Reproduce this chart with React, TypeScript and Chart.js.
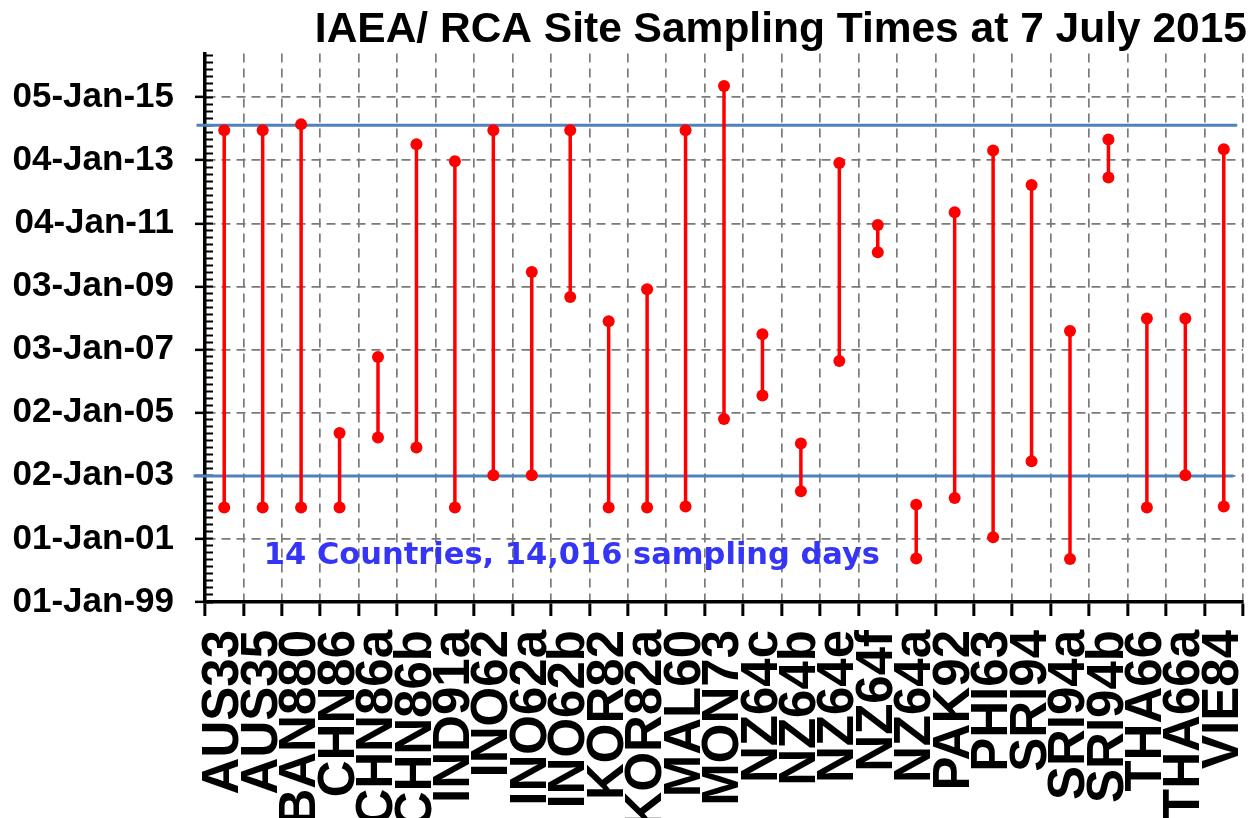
import React, { useEffect, useRef } from 'react';
import { Chart, registerables } from 'chart.js';

Chart.register(...registerables);

// ---------- data ----------
const CATEGORIES = [
  'AUS33', 'AUS35', 'BAN880', 'CHN86', 'CHN86a', 'CHN86b', 'IND91a', 'INO62', 'INO62a',
  'INO62b', 'KOR82', 'KOR82a', 'MAL60', 'MON73', 'NZ64c', 'NZ64b', 'NZ64e', 'NZ64f',
  'NZ64a', 'PAK92', 'PHI63', 'SRI94', 'SRI94a', 'SRI94b', 'THA66', 'THA66a', 'VIE84',
];

const START_DATES = [
  '2002-01-01', '2002-01-01', '2002-01-01', '2002-01-01', '2004-03-20', '2003-11-25',
  '2002-01-01', '2003-01-08', '2003-01-08', '2008-09-04', '2002-01-01', '2002-01-01',
  '2002-01-10', '2004-10-21', '2005-07-19', '2002-07-06', '2006-08-24', '2010-02-03',
  '2000-05-18', '2002-04-20', '2001-01-20', '2003-06-19', '2000-05-13', '2012-06-18',
  '2002-01-01', '2003-01-08', '2002-01-10',
];

const END_DATES = [
  '2013-12-18', '2013-12-18', '2014-02-24', '2004-05-12', '2006-10-09', '2013-07-08',
  '2012-12-23', '2013-12-18', '2009-06-20', '2013-12-18', '2007-11-27', '2008-12-02',
  '2013-12-18', '2015-05-15', '2007-06-29', '2004-01-10', '2012-12-04', '2010-12-16',
  '2002-02-02', '2011-05-12', '2013-04-26', '2012-03-24', '2007-08-06', '2013-09-01',
  '2007-12-28', '2007-12-28', '2013-05-11',
];

const Y_TICK_LABELS = [
  '01-Jan-99', '01-Jan-01', '02-Jan-03', '02-Jan-05', '03-Jan-07',
  '03-Jan-09', '04-Jan-11', '04-Jan-13', '05-Jan-15',
];
const Y_ORIGIN = '1999-01-01';
const Y_TICK_STEP_DAYS = 731;
const Y_MAX_DATE = '2016-05-25';
const MINOR_PER_MAJOR = 9;

const REFERENCE_DATES = ['2003-01-01', '2014-02-13'];
const REFERENCE_FROM = [-0.8, -0.72];
const REFERENCE_TO = [26.25, 26.35];

const TITLE = 'IAEA/ RCA Site Sampling Times at 7 July 2015';
const NOTE_TEXT = '14 Countries, 14,016 sampling days';
const NOTE_X = 1.03;
const NOTE_DATE = '2000-06-20';

// ---------- styles ----------
const RED = '#FF0000';
const BLUE = '#4F81BD';
const GRID = '#7a7a7a';
const NOTE_COLOR = '#3535F5';
const FONT = '"Liberation Sans", Arial, sans-serif';
const CANVAS_W = 1249;
const CANVAS_H = 900;
const PLOT_LEFT = 205;
const PLOT_BOTTOM = 602;

function toDays(s: string): number {
  const [y, m, d] = s.split('-').map(Number);
  const [oy, om, od] = Y_ORIGIN.split('-').map(Number);
  return (Date.UTC(y, m - 1, d) - Date.UTC(oy, om - 1, od)) / 86400000;
}

const notePlugin = {
  id: 'samplingNote',
  afterDatasetsDraw(chart: any) {
    const { ctx, scales } = chart;
    const x = scales.x.getPixelForValue(NOTE_X);
    const y = scales.y.getPixelForValue(toDays(NOTE_DATE));
    ctx.save();
    ctx.font = 'bold 30.5px "DejaVu Sans", sans-serif';
    ctx.fillStyle = NOTE_COLOR;
    ctx.textAlign = 'left';
    ctx.textBaseline = 'middle';
    ctx.fillText(NOTE_TEXT, x, y);
    ctx.restore();
  },
};

export default function App() {
  const canvasRef = useRef<HTMLCanvasElement | null>(null);

  useEffect(() => {
    const canvas = canvasRef.current;
    if (!canvas) return;

    const n = CATEGORIES.length;
    const xMin = -0.5;
    const xMax = n - 0.5;
    const yMax = toDays(Y_MAX_DATE);

    const stems: any[] = [];
    for (let i = 0; i < n; i++) {
      stems.push({ x: i, y: toDays(START_DATES[i]) });
      stems.push({ x: i, y: toDays(END_DATES[i]) });
      stems.push({ x: i, y: null });
    }

    const refSets = REFERENCE_DATES.map((d, k) => ({
      data: [
        { x: REFERENCE_FROM[k], y: toDays(d) },
        { x: REFERENCE_TO[k], y: toDays(d) },
      ],
      borderColor: BLUE,
      borderWidth: 3,
      pointRadius: 0,
      clip: false,
      order: 2,
    }));

    const xTicks: number[] = [];
    for (let v = xMin; v <= xMax + 1e-9; v += 0.5) xTicks.push(Math.round(v * 2) / 2);
    const yTicks = Y_TICK_LABELS.map((_, k) => k * Y_TICK_STEP_DAYS);
    const minorStep = Y_TICK_STEP_DAYS / MINOR_PER_MAJOR;
    const yMinorTicks: number[] = [];
    for (let k = 0; k * minorStep <= yMax; k++) yMinorTicks.push(k * minorStep);

    const chart = new Chart(canvas, {
      type: 'line',
      data: {
        datasets: [
          {
            data: stems,
            borderColor: RED,
            borderWidth: 3.5,
            pointRadius: 6,
            pointBackgroundColor: RED,
            pointBorderWidth: 0,
            spanGaps: false,
            tension: 0,
            order: 1,
          } as any,
          ...(refSets as any[]),
        ],
      },
      options: {
        animation: false,
        responsive: false,
        events: [],
        layout: { padding: { left: 0, right: 2, top: 0, bottom: 0 } },
        plugins: {
          legend: { display: false },
          tooltip: { enabled: false },
          title: {
            display: true,
            text: TITLE,
            align: 'end',
            color: '#000',
            font: { family: FONT, size: 42.5, weight: 'bold', lineHeight: 1 },
            padding: { top: 9, bottom: 2 },
          },
        },
        scales: {
          x: {
            type: 'linear',
            position: 'bottom',
            min: xMin,
            max: xMax,
            afterBuildTicks: (scale: any) => {
              scale.ticks = xTicks.map((v) => ({ value: v }));
            },
            afterFit: (scale: any) => {
              scale.height = CANVAS_H - PLOT_BOTTOM;
              scale.paddingLeft = 0;
              scale.paddingRight = 0;
            },
            ticks: {
              autoSkip: false,
              minRotation: 90,
              maxRotation: 90,
              padding: 14,
              color: '#000',
              font: { family: FONT, size: 51, weight: 'bold' },
              callback: (value: any) =>
                Number.isInteger(value) && CATEGORIES[value] !== undefined ? CATEGORIES[value] : '',
            },
            grid: {
              color: (ctx: any) => {
                const v = ctx.tick ? ctx.tick.value : 0;
                return Number.isInteger(v) || v === xMin ? 'rgba(0,0,0,0)' : GRID;
              },
              lineWidth: 1.7,
              drawTicks: true,
              tickLength: 14,
              tickWidth: 3,
              tickBorderDash: [],
              tickColor: (ctx: any) => {
                const v = ctx.tick ? ctx.tick.value : 0;
                return Number.isInteger(v) ? 'rgba(0,0,0,0)' : '#000';
              },
            },
            border: { display: true, color: '#000', width: 3.5, dash: [9, 6] },
          } as any,
          y: {
            type: 'linear',
            position: 'left',
            min: 0,
            max: yMax,
            afterBuildTicks: (scale: any) => {
              scale.ticks = yTicks.map((v) => ({ value: v }));
            },
            afterFit: (scale: any) => {
              scale.width = PLOT_LEFT;
              scale.paddingTop = 0;
              scale.paddingBottom = 0;
            },
            ticks: {
              autoSkip: false,
              padding: 21,
              color: '#000',
              font: { family: FONT, size: 35, weight: 'bold' },
              callback: (value: any) => {
                const k = Math.round(value / Y_TICK_STEP_DAYS);
                return Y_TICK_LABELS[k] ?? '';
              },
            },
            grid: {
              color: (ctx: any) => (ctx.tick && ctx.tick.value === 0 ? 'rgba(0,0,0,0)' : GRID),
              lineWidth: 1.7,
              drawTicks: true,
              tickLength: 10,
              tickWidth: 2.5,
              tickColor: '#000',
              tickBorderDash: [],
            },
            border: { display: true, color: '#000', width: 3.5, dash: [9, 6] },
          } as any,
          yMinor: {
            type: 'linear',
            axis: 'y',
            position: { x: -0.29 },
            min: 0,
            max: yMax,
            afterBuildTicks: (scale: any) => {
              scale.ticks = yMinorTicks.map((v) => ({ value: v }));
            },
            afterFit: (scale: any) => {
              scale.width = 0;
              scale.paddingTop = 0;
              scale.paddingBottom = 0;
              scale.paddingLeft = 0;
              scale.paddingRight = 0;
            },
            ticks: { display: false, autoSkip: false },
            grid: {
              drawOnChartArea: false,
              drawTicks: true,
              tickLength: 8,
              tickWidth: 2,
              tickColor: '#000',
              tickBorderDash: [],
            },
            border: { display: false },
          } as any,
        },
      },
      plugins: [notePlugin],
    } as any);

    return () => {
      chart.destroy();
    };
  }, []);

  return (
    <div
      style={{
        position: 'absolute',
        left: 0,
        top: 0,
        width: CANVAS_W,
        height: 818,
        overflow: 'hidden',
        background: '#fff',
      }}
    >
      <canvas
        ref={canvasRef}
        width={CANVAS_W}
        height={CANVAS_H}
        style={{ display: 'block', width: CANVAS_W, height: CANVAS_H }}
      />
    </div>
  );
}
